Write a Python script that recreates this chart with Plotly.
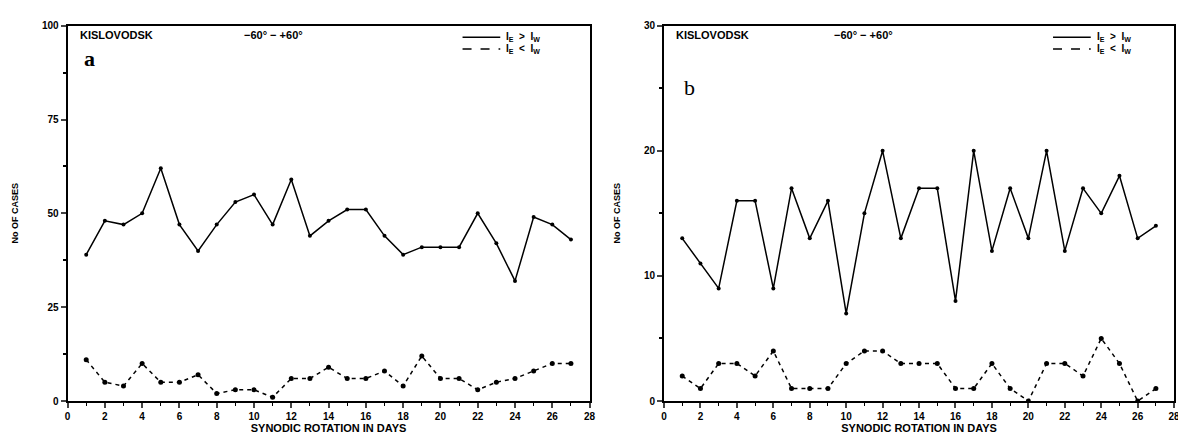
import plotly.graph_objects as go

days = list(range(1, 28))

# Panel a (0-100 scale)
a_ge = [39, 48, 47, 50, 62, 47, 40, 47, 53, 55, 47, 59, 44, 48, 51, 51, 44, 39, 41, 41, 41, 50, 42, 32, 49, 47, 43]
a_lt = [11, 5, 4, 10, 5, 5, 7, 2, 3, 3, 1, 6, 6, 9, 6, 6, 8, 4, 12, 6, 6, 3, 5, 6, 8, 10, 10]

# Panel b (0-30 scale)
b_ge = [13, 11, 9, 16, 16, 9, 17, 13, 16, 7, 15, 20, 13, 17, 17, 8, 20, 12, 17, 13, 20, 12, 17, 15, 18, 13, 14]
b_lt = [2, 1, 3, 3, 2, 4, 1, 1, 1, 3, 4, 4, 3, 3, 3, 1, 1, 3, 1, 0, 3, 3, 2, 5, 3, 0, 1]

x_ticks = list(range(0, 29, 2))
a_yticks = [0, 25, 50, 75, 100]
b_yticks = [0, 10, 20, 30]

name_ge = "I<sub>E</sub>  >  I<sub>W</sub>"
name_lt = "I<sub>E</sub>  <  I<sub>W</sub>"

W, H = 1186, 435
def px(v): return v / W
def py(v): return (H - v) / H

fig = go.Figure()

def add_pair(xa, ya, ge, lt):
    fig.add_trace(go.Scatter(x=days, y=ge, mode="lines+markers", name=name_ge,
                             line=dict(color="black", width=1.5),
                             marker=dict(color="black", size=4),
                             xaxis=xa, yaxis=ya, showlegend=False))
    fig.add_trace(go.Scatter(x=days, y=lt, mode="lines+markers", name=name_lt,
                             line=dict(color="black", width=1.5, dash="4px,4px"),
                             marker=dict(color="black", size=5),
                             xaxis=xa, yaxis=ya, showlegend=False))

add_pair("x", "y", a_ge, a_lt)
add_pair("x2", "y2", b_ge, b_lt)

tickfont = dict(family="Liberation Sans", size=10, color="black", weight="bold")
common_x = dict(range=[0, 28], tickvals=x_ticks, ticks="outside", ticklen=5, tickwidth=1.5,
                showline=True, linecolor="black", linewidth=2, mirror=True, showgrid=False,
                zeroline=False, tickfont=tickfont,
                minor=dict(dtick=1, ticks="outside", ticklen=3, tickcolor="black", tickwidth=1),
                title=dict(text="SYNODIC ROTATION IN DAYS",
                           font=dict(family="Liberation Sans", size=11, color="black", weight="bold"),
                           standoff=0))
common_y = dict(ticks="outside", ticklen=5, tickwidth=1.5, showline=True, linecolor="black",
                linewidth=2, mirror=True, showgrid=False, zeroline=False, tickfont=tickfont,
                title=dict(text="No OF CASES",
                           font=dict(family="Liberation Sans", size=9, color="black", weight="bold"),
                           standoff=22))

fig.update_layout(
    width=W, height=H,
    paper_bgcolor="white", plot_bgcolor="white",
    margin=dict(l=0, r=0, t=0, b=0),
    showlegend=False,
    xaxis=dict(domain=[px(57), px(583)], anchor="y", **common_x),
    yaxis=dict(domain=[py(398), py(12)], anchor="x", range=[0, 100], tickvals=a_yticks,
               minor=dict(dtick=12.5, ticks="outside", ticklen=3, tickcolor="black"), **common_y),
    xaxis2=dict(domain=[px(658), px(1172)], anchor="y2", **common_x),
    yaxis2=dict(domain=[py(398), py(12)], anchor="x2", range=[0, 30], tickvals=b_yticks,
                minor=dict(dtick=5, ticks="outside", ticklen=3, tickcolor="black"), **common_y),
)

lab = dict(family="Liberation Sans", size=11, color="black", weight="bold")
leg = dict(family="Liberation Sans", size=10, color="black", weight="bold")
annots = [
    (68, 22, "KISLOVODSK", lab),
    (233, 22, "−60° − +60°", lab),
    (72, 46, "a", dict(family="Liberation Serif", size=22, color="black", weight="bold")),
    (668, 22, "KISLOVODSK", lab),
    (827, 22, "−60° − +60°", lab),
    (676, 76, "b", dict(family="Liberation Serif", size=22, color="black")),
]
# manual legend (two rows per panel)
for lx in (455, 1050):
    for ly, t, dash in ((24, name_ge, "solid"), (36, name_lt, "dash")):
        fig.add_shape(type="line", xref="paper", yref="paper",
                      x0=px(lx), x1=px(lx + 38), y0=py(ly), y1=py(ly),
                      line=dict(color="black", width=1.5, dash=dash))
        annots.append((lx + 42, ly, t, leg))

for x, y, t, f in annots:
    fig.add_annotation(x=px(x), y=py(y), xref="paper", yref="paper", text=t, showarrow=False,
                       xanchor="left", yanchor="middle", font=f)

fig.write_html("out.html")
